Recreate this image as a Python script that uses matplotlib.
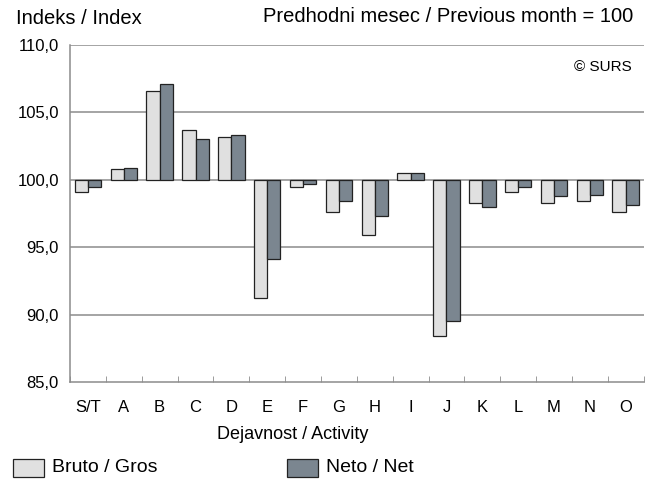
import matplotlib
matplotlib.use("Agg")
import matplotlib.pyplot as plt
from matplotlib.patches import Rectangle
from matplotlib.ticker import FuncFormatter, FixedLocator
import numpy as np

categories = ["S/T", "A", "B", "C", "D", "E", "F", "G", "H", "I", "J", "K", "L", "M", "N", "O"]
bruto = [99.1, 100.8, 106.6, 103.7, 103.2, 91.2, 99.5, 97.6, 95.9, 100.5, 88.4, 98.3, 99.1, 98.3, 98.4, 97.6]
neto = [99.5, 100.9, 107.1, 103.0, 103.3, 94.1, 99.7, 98.4, 97.3, 100.5, 89.5, 98.0, 99.5, 98.8, 98.9, 98.1]
base = 100.0

C_BRUTO = "#e0e0e0"
C_NETO = "#7b8690"
GRID = "#8c8c8c"

plt.rcParams["font.family"] = ["Liberation Sans", "DejaVu Sans"]
plt.rcParams["font.size"] = 12

fig = plt.figure(figsize=(6.46, 4.79), dpi=100)
ax = fig.add_axes([0.1084, 0.2025, 0.888, 0.7035])

x = np.arange(len(categories))
w = 0.37
ax.bar(x - w / 2, np.array(bruto) - base, w, bottom=base, color=C_BRUTO,
       edgecolor="#222222", linewidth=0.9, zorder=3)
ax.bar(x + w / 2, np.array(neto) - base, w, bottom=base, color=C_NETO,
       edgecolor="#222222", linewidth=0.9, zorder=3)

ax.set_xlim(-0.5, len(categories) - 0.5)
ax.set_ylim(85, 110)
ax.set_yticks([85, 90, 95, 100, 105, 110])
ax.yaxis.set_major_formatter(FuncFormatter(lambda v, p: f"{v:.1f}".replace(".", ",")))
for yv in [90, 95, 100, 105, 110]:
    ax.axhline(yv, color=GRID, linewidth=1.1, zorder=1)

ax.set_xticks(x)
ax.set_xticklabels(categories)
ax.xaxis.set_minor_locator(FixedLocator(np.arange(-0.5, len(categories), 1.0)))
ax.tick_params(axis="x", which="major", length=0, pad=13, labelsize=12)
ax.tick_params(axis="x", which="minor", direction="in", length=4, color=GRID)
ax.tick_params(axis="y", length=0, pad=8, labelsize=12)

for s in ["top", "right"]:
    ax.spines[s].set_visible(False)
for s in ["left", "bottom"]:
    ax.spines[s].set_color(GRID)
    ax.spines[s].set_linewidth(1.1)

ax.set_xlabel("Dejavnost / Activity", fontsize=13)
ax.xaxis.set_label_coords(0.389, -0.13)

ax.text(0.98, 0.955, "© SURS", transform=ax.transAxes, ha="right", va="top", fontsize=11)
fig.text(16 / 646, 1 - 19 / 479, "Indeks / Index", ha="left", va="center", fontsize=14.5)
fig.text(633 / 646, 1 - 17 / 479, "Predhodni mesec / Previous month = 100",
         ha="right", va="center", fontsize=14.5)

# legend drawn as figure patches
fig.patches.append(Rectangle((13 / 646, 1 - 477 / 479), 31 / 646, 18 / 479,
                             transform=fig.transFigure, facecolor=C_BRUTO,
                             edgecolor="#222222", linewidth=0.9))
fig.text(52 / 646, 1 - 468 / 479, "Bruto / Gros", ha="left", va="center", fontsize=14)
fig.patches.append(Rectangle((287 / 646, 1 - 477 / 479), 31 / 646, 18 / 479,
                             transform=fig.transFigure, facecolor=C_NETO,
                             edgecolor="#222222", linewidth=0.9))
fig.text(326 / 646, 1 - 468 / 479, "Neto / Net", ha="left", va="center", fontsize=14)

fig.savefig("out.png", dpi=100)
